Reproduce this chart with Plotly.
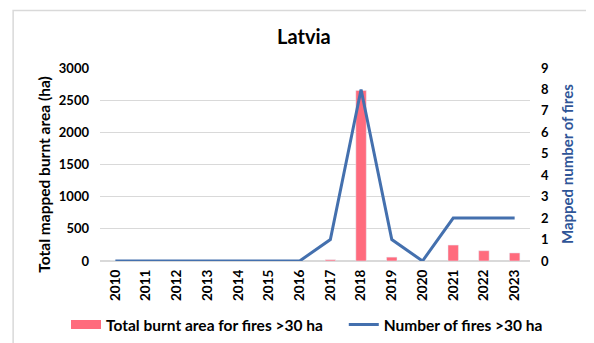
import plotly.graph_objects as go

# datos
years = ["2010", "2011", "2012", "2013", "2014", "2015", "2016",
         "2017", "2018", "2019", "2020", "2021", "2022", "2023"]
burnt_area = [0, 0, 0, 0, 0, 0, 0, 20, 2650, 60, 0, 248, 160, 125]
n_fires = [0, 0, 0, 0, 0, 0, 0, 1, 8, 1, 0, 2, 2, 2]

bar_color = "#FF6B7D"
line_color = "#4470AE"
font_fam = "Lato"

fig = go.Figure()
# barras: area quemada (la leyenda va en una traza aparte para tener el rectangulo ancho)
fig.add_trace(go.Bar(
    x=years, y=burnt_area,
    name="Total burnt area for fires >30 ha",
    marker=dict(color=bar_color),
    width=0.34,
    showlegend=False,
))
# entrada de leyenda con simbolo ancho
fig.add_trace(go.Scatter(
    x=[None], y=[None], mode="lines",
    name="Total burnt area for fires >30 ha",
    line=dict(color=bar_color, width=9),
    legend="legend",
))
# linea: numero de incendios (eje derecho)
fig.add_trace(go.Scatter(
    x=years, y=n_fires,
    name="Number of fires >30 ha",
    mode="lines",
    line=dict(color=line_color, width=3),
    yaxis="y2",
    legend="legend2",
))

leg_style = dict(orientation="h", xref="container", yref="container",
                 xanchor="left", y=0.054, yanchor="middle",
                 font=dict(size=15.5, weight="bold"), itemwidth=30,
                 bgcolor="rgba(0,0,0,0)")

# el body de la pagina tiene 8px de margen, por eso 586x335
fig.update_layout(
    width=586, height=335,
    margin=dict(l=92, r=63.5, t=60, b=82),
    paper_bgcolor="white", plot_bgcolor="white",
    font=dict(family=font_fam, color="black"),
    title=dict(text="<b>Latvia</b>", x=0.505, xanchor="center", y=0.913, yanchor="middle",
               font=dict(size=20, color="black")),
    xaxis=dict(
        tickangle=-90, tickfont=dict(size=13.5, color="black", weight="bold"),
        showgrid=False, showline=False, ticks="", automargin=False, ticklabelstandoff=5,
    ),
    yaxis=dict(
        range=[0, 3000], dtick=500,
        tickfont=dict(size=13, weight="bold"), ticklabelstandoff=10,
        gridcolor="#D9D9D9", gridwidth=1, zeroline=True, zerolinecolor="#D9D9D9",
        automargin=False,
    ),
    yaxis2=dict(
        range=[0, 9], dtick=1, overlaying="y", side="right",
        showgrid=False, zeroline=False, automargin=False,
        tickfont=dict(size=13, weight="bold"), ticklabelstandoff=10,
    ),
    legend=dict(x=0.099, **leg_style),
    legend2=dict(x=0.573, **leg_style),
    showlegend=True,
)

# titulos de ejes como anotaciones para ubicarlos igual que el original
fig.add_annotation(text="<b>Total mapped burnt area (ha)</b>", textangle=-90,
                   xref="paper", yref="paper", x=-0.129, y=0.445, showarrow=False,
                   xanchor="center", yanchor="middle",
                   font=dict(size=15.5, color="black"))
fig.add_annotation(text="<b>Mapped number of fires</b>", textangle=-90,
                   xref="paper", yref="paper", x=1.085, y=0.5, showarrow=False,
                   xanchor="center", yanchor="middle",
                   font=dict(size=15, color="#2F5597"))

# marco gris del area del grafico
fig.add_shape(type="rect", xref="paper", yref="paper",
              x0=-0.202, x1=1.3, y0=-0.6, y1=1.298,
              line=dict(color="#D9D9D9", width=1.5), fillcolor="rgba(0,0,0,0)", layer="below")

fig.write_html("out.html")
